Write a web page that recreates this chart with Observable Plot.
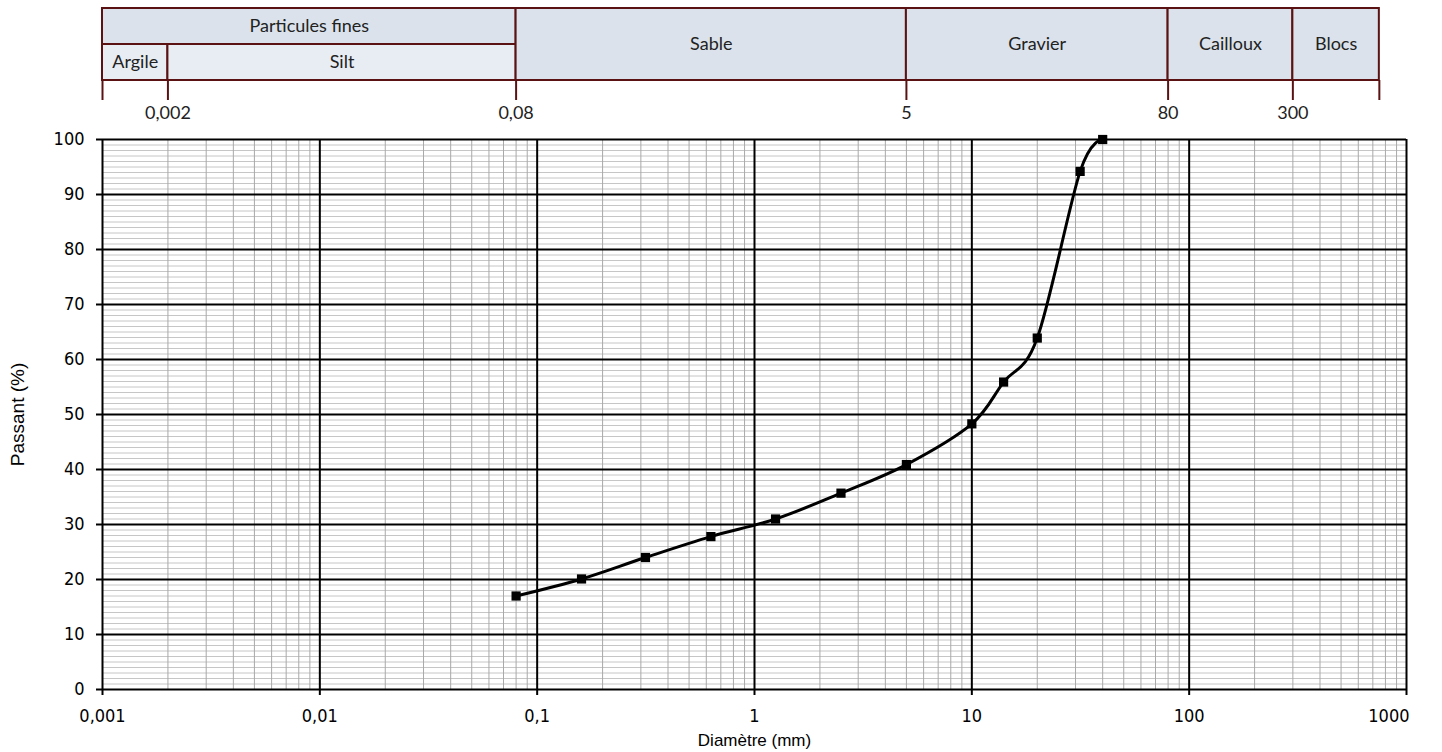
<!DOCTYPE html>
<html><head><meta charset="utf-8">
<script src="https://cdn.jsdelivr.net/npm/d3@7"></script>
<script src="https://cdn.jsdelivr.net/npm/@observablehq/plot@0.6"></script>
<style>
html,body{margin:0;padding:0;background:#fff;}
svg{display:block;}
#chart{width:1442px;}
</style></head><body><div id="chart"></div>
<script>
// ---- data ----
const sieveSizes = [0.08, 0.16, 0.315, 0.63, 1.25, 2.5, 5, 10, 14, 20, 31.5, 40];
const passing = [17, 20.1, 24, 27.8, 31, 35.7, 40.9, 48.3, 55.9, 63.9, 94.2, 100];

const xTicks = [0.001, 0.01, 0.1, 1, 10, 100, 1000];
const xTickLabels = ["0,001", "0,01", "0,1", "1", "10", "100", "1000"];
const yTicks = [0, 10, 20, 30, 40, 50, 60, 70, 80, 90, 100];

const headerNames = ["Particules fines", "Argile", "Silt", "Sable", "Gravier", "Cailloux", "Blocs"];
const headerFrom = [0.001, 0.001, 0.002, 0.08, 5, 80, 300];
const headerTo = [0.08, 0.002, 0.08, 5, 80, 300, 750];
const headerRowLow = [1, 0, 0, 0, 0, 0, 0];
const headerRowHigh = [2, 1, 1, 2, 2, 2, 2];

const headerTicks = [0.001, 0.002, 0.08, 5, 80, 300, 750];
const headerTickLabels = ["", "0,002", "0,08", "5", "80", "300", ""];

// ---- grid helpers ----
const xMinor = [];
for (const d of xTicks.slice(0, -1)) for (let k = 2; k <= 9; k++) xMinor.push(d * k);
const yMinor = d3.range(0, 101, 1);

const W = 1442;
const tickFont = "'DejaVu Sans Condensed', 'DejaVu Sans', sans-serif";
const titleFont = "'Liberation Sans', Arial, sans-serif";
const headFont = "Lato, 'Open Sans', sans-serif";
const border = "#5a1212";

const idx = headerNames.map((d, i) => i);
const hIdx = headerTicks.map((d, i) => i);
const xIdx = xTicks.map((d, i) => i);
const last = xTicks.length - 1;

const header = Plot.plot({
  width: W, height: 128,
  marginTop: 8, marginBottom: 48, marginLeft: 102, marginRight: 36,
  x: {type: "log", domain: [0.001, 1000], axis: null},
  y: {domain: [0, 2], axis: null},
  style: {background: "#fff", color: "#000", fontFamily: headFont, fontSize: "18px"},
  marks: [
    Plot.rect(idx, {
      x1: i => headerFrom[i], x2: i => headerTo[i],
      y1: i => headerRowLow[i], y2: i => headerRowHigh[i],
      fill: i => (headerRowHigh[i] - headerRowLow[i] === 1 && headerRowLow[i] === 0) ? "#e8edf3" : "#dbe2eb",
      stroke: border, strokeWidth: 2
    }),
    Plot.text(idx, {
      x: i => Math.sqrt(headerFrom[i] * headerTo[i]),
      y: i => (headerRowLow[i] + headerRowHigh[i]) / 2,
      text: i => headerNames[i],
      fontFamily: headFont, fontSize: 18, fill: "#222"
    }),
    Plot.axisX(headerTicks, {tickSize: 20, stroke: border, strokeWidth: 2, text: null, label: null}),
    Plot.text(hIdx, {
      x: i => headerTicks[i], text: i => headerTickLabels[i],
      frameAnchor: "bottom", dy: 33, lineAnchor: "middle",
      fontFamily: headFont, fontSize: 18, fill: "#222"
    })
  ]
});

const main = Plot.plot({
  width: W, height: 624,
  marginTop: 11, marginBottom: 63, marginLeft: 102, marginRight: 36,
  x: {type: "log", domain: [0.001, 1000]},
  y: {domain: [0, 100]},
  style: {background: "#fff", color: "#000", fontFamily: tickFont, fontSize: "18px"},
  marks: [
    Plot.ruleY(yMinor, {stroke: "#c6c6c6", strokeWidth: 1}),
    Plot.ruleX(xMinor, {stroke: "#a9a9a9", strokeWidth: 1}),
    Plot.ruleY(yTicks, {stroke: "#000", strokeWidth: 2}),
    Plot.ruleX(xTicks, {stroke: "#000", strokeWidth: 2}),
    Plot.axisY(yTicks, {tickSize: 6, tickPadding: 12, strokeWidth: 2, label: null, fontFamily: tickFont, fontSize: 18}),
    Plot.axisX(xTicks, {tickSize: 6, strokeWidth: 2, label: null, text: null}),
    Plot.text(xIdx, {
      filter: i => i < last,
      x: i => xTicks[i], text: i => xTickLabels[i],
      frameAnchor: "bottom", dy: 27, lineAnchor: "middle",
      fontFamily: tickFont, fontSize: 18
    }),
    Plot.text(xIdx, {
      filter: i => i === last,
      x: i => xTicks[i], text: i => xTickLabels[i],
      frameAnchor: "bottom", dy: 27, lineAnchor: "middle", textAnchor: "end", dx: 3,
      fontFamily: tickFont, fontSize: 18
    }),
    Plot.line(sieveSizes, {x: sieveSizes, y: passing, curve: "cardinal", tension: 0, stroke: "#000", strokeWidth: 3}),
    Plot.dot(sieveSizes, {x: sieveSizes, y: passing, symbol: "square", r: 5.2, fill: "#000", stroke: "none"}),
    Plot.text(["Diamètre (mm)"], {frameAnchor: "bottom", dy: 51, lineAnchor: "middle", text: d => d, fontFamily: titleFont, fontSize: 17}),
    Plot.text(["Passant (%)"], {frameAnchor: "left", dx: -85, rotate: -90, textAnchor: "middle", lineAnchor: "middle", text: d => d, fontFamily: titleFont, fontSize: 19})
  ]
});

const chart = document.getElementById("chart");
chart.appendChild(header);
chart.appendChild(main);
</script>
</body></html>
